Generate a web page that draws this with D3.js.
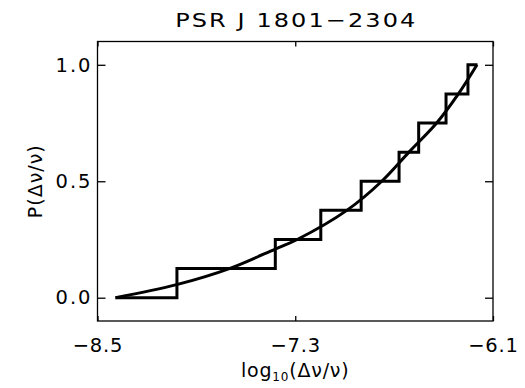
<!DOCTYPE html>
<html lang="en">
<head>
    <meta charset="UTF-8">
    <title>PSR J 1801-2304</title>
    <script src="https://d3js.org/d3.v7.min.js"></script>
    <style>
        body { margin: 0; background: #fff; }
        text { font-family: "DejaVu Sans", sans-serif; fill: #000; }
        .frame { fill: none; stroke: #000; stroke-width: 1.3px; }
        .axis path { display: none; }
        .axis line { stroke: #000; stroke-width: 1.3px; }
        .steps, .fit { fill: none; stroke: #000; stroke-width: 3px; stroke-linejoin: miter; }
    </style>
</head>
<body>
<svg width="525" height="388"></svg>
<script>
    // glitch sizes (step edges) and cumulative fraction
    const stepX = [-8.391, -8.018, -7.421, -7.145, -6.900, -6.670, -6.551, -6.385, -6.252, -6.194];
    const stepP = [0, 0.125, 0.25, 0.375, 0.5, 0.625, 0.75, 0.875, 1.0, 1.0];

    // fitted curve, points
    const fitX = [-8.391, -8.020, -7.700, -7.421, -7.288, -6.987, -6.775, -6.610, -6.442, -6.310, -6.197];
    const fitP = [0, 0.056, 0.125, 0.209, 0.25, 0.375, 0.5, 0.625, 0.75, 0.875, 1.0];

    const xTicks = [-8.5, -7.3, -6.1];
    const yTicks = [0.0, 0.5, 1.0];

    const width = 525, height = 388;
    const margin = { top: 41.5, right: 32, bottom: 67, left: 97.5 };
    const innerW = width - margin.left - margin.right;
    const innerH = height - margin.top - margin.bottom;

    const svg = d3.select("svg");
    const g = svg.append("g").attr("transform", `translate(${margin.left},${margin.top})`);

    const x = d3.scaleLinear().domain([-8.5, -6.1]).range([0, innerW]);
    const y = d3.scaleLinear().domain([-0.1, 1.1]).range([innerH, 0]);
    const fmt = d3.format(".1f");

    // ticks on all four sides, pointing inward
    g.append("g").attr("class", "axis x-bottom")
        .attr("transform", `translate(0,${innerH})`)
        .call(d3.axisBottom(x).tickValues(xTicks).tickSize(-5).tickFormat(fmt))
        .selectAll("text")
        .attr("y", 17)
        .style("font-size", "19.5px")
        .style("letter-spacing", "0.8px");

    g.append("g").attr("class", "axis x-top")
        .call(d3.axisTop(x).tickValues(xTicks).tickSize(-5).tickFormat(""));

    g.append("g").attr("class", "axis y-left")
        .call(d3.axisLeft(y).tickValues(yTicks).tickSize(-8).tickFormat(fmt))
        .selectAll("text")
        .attr("x", -5)
        .style("font-size", "19.5px")
        .style("letter-spacing", "2px");

    g.append("g").attr("class", "axis y-right")
        .attr("transform", `translate(${innerW},0)`)
        .call(d3.axisRight(y).tickValues(yTicks).tickSize(-8).tickFormat(""));

    g.append("rect").attr("class", "frame")
        .attr("width", innerW).attr("height", innerH);

    // step function
    const stepLine = d3.line()
        .x((d, i) => x(stepX[i]))
        .y((d, i) => y(stepP[i]))
        .curve(d3.curveStepAfter);
    g.append("path").attr("class", "steps").attr("d", stepLine(stepX));

    // fitted curve
    const fitLine = d3.line()
        .x((d, i) => x(fitX[i]))
        .y((d, i) => y(fitP[i]))
        .curve(d3.curveCatmullRom.alpha(0.5));
    g.append("path").attr("class", "fit").attr("d", fitLine(fitX));

    // title (stretched a bit, the original font is wide)
    svg.append("text")
        .attr("transform", `translate(${margin.left + innerW / 2},27) scale(1.2,1)`)
        .attr("text-anchor", "middle")
        .attr("textLength", 200)
        .attr("lengthAdjust", "spacing")
        .style("font-size", "20px")
        .text("PSR J 1801\u22122304");

    // x label
    const xl = svg.append("text")
        .attr("x", margin.left + innerW / 2)
        .attr("y", 377)
        .attr("text-anchor", "middle")
        .style("font-size", "19px")
        .style("letter-spacing", "0.8px");
    xl.append("tspan").text("log");
    xl.append("tspan").attr("dy", 4).style("font-size", "12px").text("10");
    xl.append("tspan").attr("dy", -4).text("(\u0394\u03bd/\u03bd)");

    // y label
    svg.append("text")
        .attr("transform", `translate(42,${margin.top + y(0.5)}) rotate(-90)`)
        .attr("text-anchor", "middle")
        .style("font-size", "19px")
        .style("letter-spacing", "1px")
        .text("P(\u0394\u03bd/\u03bd)");
</script>
</body>
</html>
